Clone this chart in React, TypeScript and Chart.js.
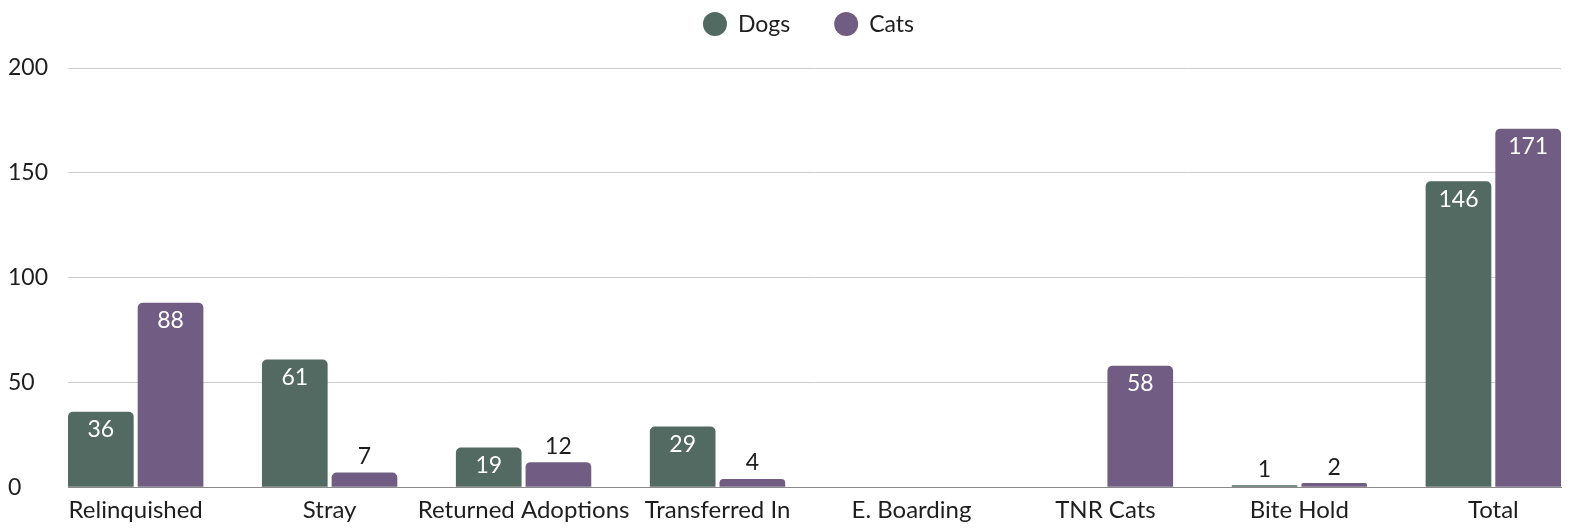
import React, { useEffect, useRef } from 'react';
import { Chart, registerables } from 'chart.js';

Chart.register(...registerables);

const categories = ['Relinquished', 'Stray', 'Returned Adoptions', 'Transferred In', 'E. Boarding', 'TNR Cats', 'Bite Hold', 'Total'];
const dogValues = [36, 61, 19, 29, 0, 0, 1, 146];
const catValues = [88, 7, 12, 4, 0, 58, 2, 171];
const seriesNames = ['Dogs', 'Cats'];
const yTickValues = [0, 50, 100, 150, 200];

const DOG_COLOR = '#536a63';
const CAT_COLOR = '#715d83';
const TEXT_COLOR = '#1e1e1e';
const GRID_COLOR = '#cccccc';
const AXIS_COLOR = '#8a8a8a';
const FONT = 'Lato, "Noto Sans", sans-serif';
const HALF_GROUP = 0.349;

const legendPlugin = {
  id: 'customLegend',
  afterDraw(chart: any) {
    const ctx = chart.ctx;
    ctx.save();
    ctx.font = `23px ${FONT}`;
    ctx.textBaseline = 'middle';
    ctx.textAlign = 'left';
    const r = 12;
    const textGap = 11;
    const itemGap = 44;
    const items = chart.data.datasets.map((ds: any) => ({
      text: ds.label,
      color: ds.backgroundColor,
      w: ctx.measureText(ds.label).width,
    }));
    const total = items.reduce((s: number, it: any) => s + 2 * r + textGap + it.w, 0) + itemGap * (items.length - 1);
    const cx = (chart.chartArea.left + chart.chartArea.right) / 2 - 6;
    let x = cx - total / 2;
    const y = 24;
    items.forEach((it: any) => {
      ctx.beginPath();
      ctx.fillStyle = it.color;
      ctx.arc(x + r, y, r, 0, Math.PI * 2);
      ctx.fill();
      ctx.fillStyle = TEXT_COLOR;
      ctx.fillText(it.text, x + 2 * r + textGap, y + 1);
      x += 2 * r + textGap + it.w + itemGap;
    });
    ctx.restore();
  },
};

const valueLabelPlugin = {
  id: 'valueLabels',
  afterDatasetsDraw(chart: any) {
    const ctx = chart.ctx;
    ctx.save();
    ctx.font = `23px ${FONT}`;
    ctx.textAlign = 'center';
    ctx.textBaseline = 'middle';
    chart.data.datasets.forEach((ds: any, di: number) => {
      const meta = chart.getDatasetMeta(di);
      meta.data.forEach((bar: any, i: number) => {
        const v = ds.data[i].y;
        if (!v) return;
        const { x, y, base } = bar.getProps(['x', 'y', 'base'], true);
        const h = base - y;
        if (h > 34) {
          ctx.fillStyle = '#ffffff';
          ctx.fillText(String(v), x, y + 18);
        } else {
          ctx.fillStyle = TEXT_COLOR;
          ctx.fillText(String(v), x, y - 16);
        }
      });
    });
    ctx.restore();
  },
};

export default function App() {
  const canvasRef = useRef<HTMLCanvasElement | null>(null);

  useEffect(() => {
    if (!canvasRef.current) return;
    const chart = new Chart(canvasRef.current, {
      type: 'bar',
      data: {
        datasets: [
          {
            label: seriesNames[0],
            data: dogValues.map((v, i) => ({ x: i, y: v })),
            backgroundColor: DOG_COLOR,
            borderRadius: 5,
            borderSkipped: 'start',
            categoryPercentage: 0.7186,
            barPercentage: 0.9426,
          },
          {
            label: seriesNames[1],
            data: catValues.map((v, i) => ({ x: i, y: v })),
            backgroundColor: CAT_COLOR,
            borderRadius: 5,
            borderSkipped: 'start',
            categoryPercentage: 0.7186,
            barPercentage: 0.9426,
          },
        ],
      },
      options: {
        responsive: true,
        maintainAspectRatio: false,
        animation: false,
        layout: { padding: { top: 68, left: 8, right: 14, bottom: 0 } },
        plugins: {
          legend: { display: false },
          tooltip: { enabled: false },
        },
        scales: {
          x: {
            type: 'linear',
            offset: false,
            min: -HALF_GROUP,
            max: categories.length - 1 + HALF_GROUP,
            afterBuildTicks: (s: any) => {
              s.ticks = categories.map((_, i) => ({ value: i }));
            },
            afterFit: (s: any) => {
              s.height = 41.7;
            },
            grid: { display: false, offset: false },
            border: { display: true, color: AXIS_COLOR, width: 1 },
            ticks: {
              autoSkip: false,
              maxRotation: 0,
              minRotation: 0,
              padding: 1,
              color: TEXT_COLOR,
              font: { family: FONT, size: 24 },
              callback: (v: any) => categories[v] ?? '',
            },
          },
          y: {
            min: 0,
            max: 200,
            afterBuildTicks: (s: any) => {
              s.ticks = yTickValues.map((v) => ({ value: v }));
            },
            afterFit: (s: any) => {
              s.width = 60;
            },
            grid: {
              color: (c: any) => (c.tick && c.tick.value === 0 ? AXIS_COLOR : GRID_COLOR),
              drawTicks: false,
              lineWidth: 1,
            },
            border: { display: false },
            ticks: {
              crossAlign: 'far',
              padding: 0,
              color: TEXT_COLOR,
              font: { family: FONT, size: 23 },
            },
          },
        },
      },
      plugins: [legendPlugin, valueLabelPlugin],
    } as any);
    return () => chart.destroy();
  }, []);

  return (
    <div style={{ position: 'absolute', left: 0, top: 0, width: 1575, height: 529 }}>
      <canvas ref={canvasRef} />
    </div>
  );
}
